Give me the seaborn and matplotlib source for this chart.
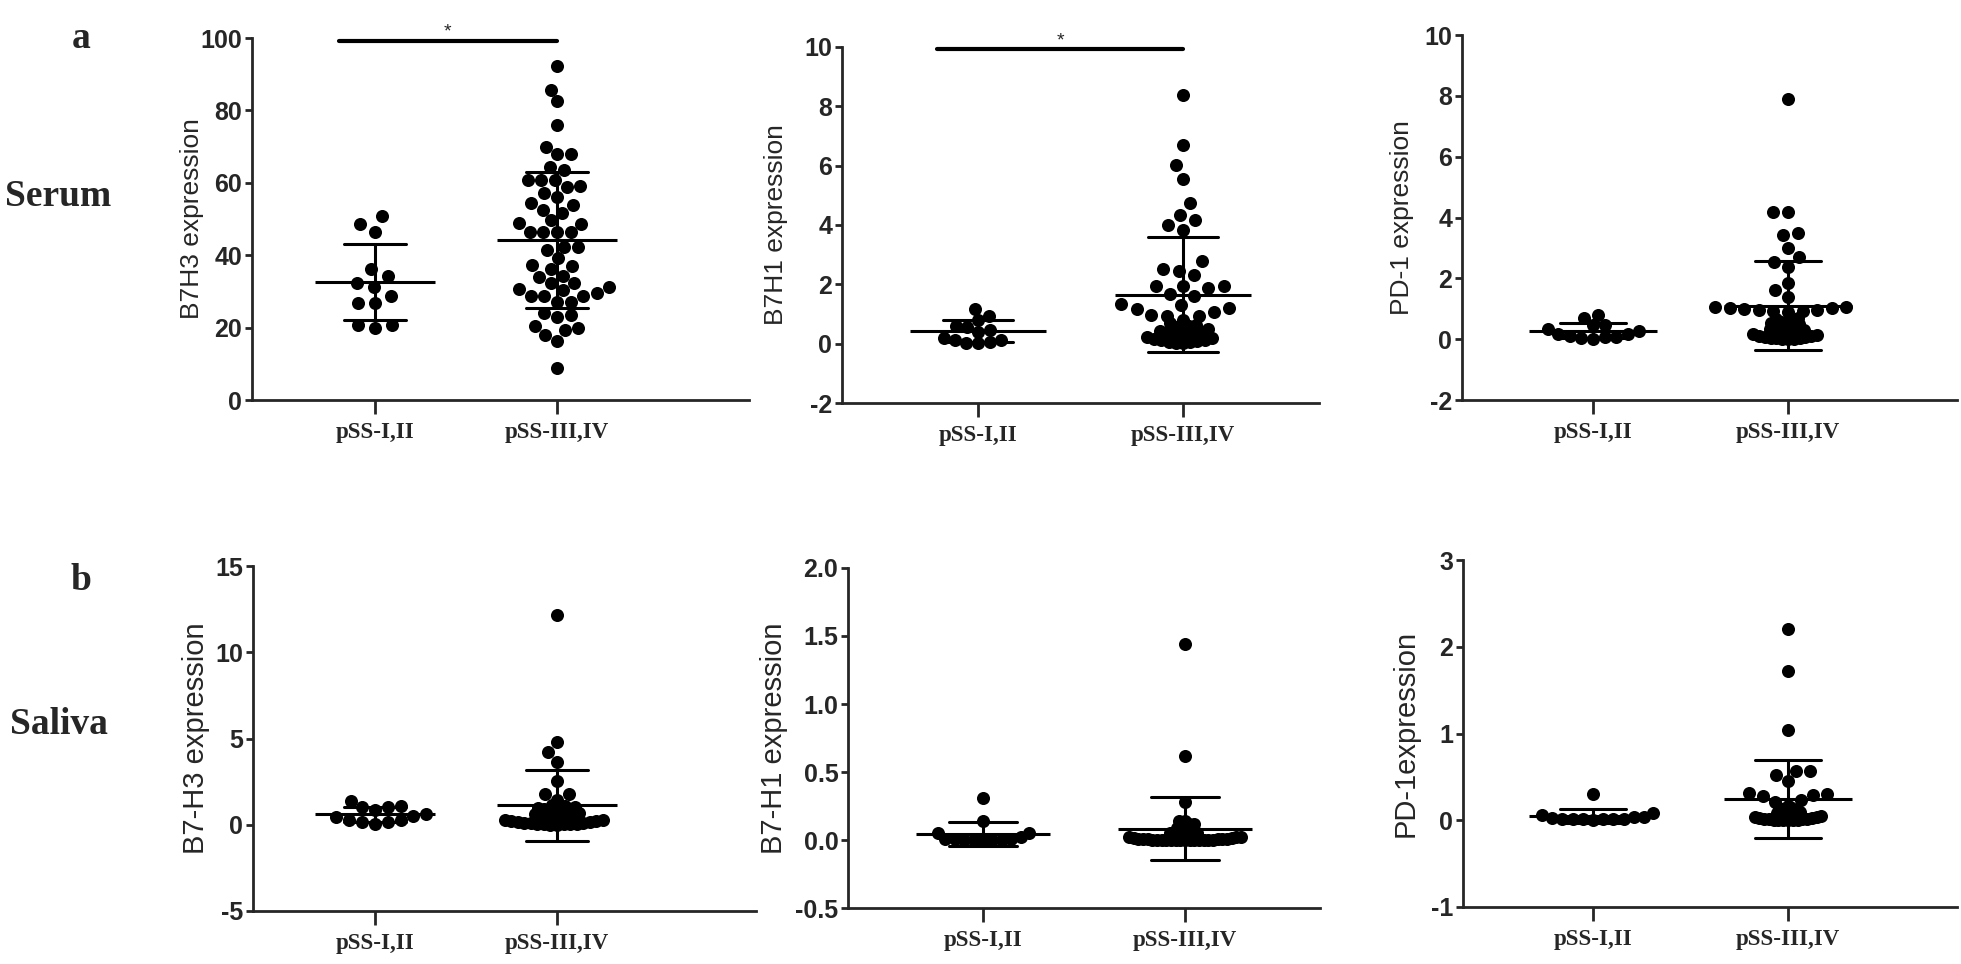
import seaborn as sns
import numpy as np
import matplotlib.pyplot as plt
import pandas as pd

sns.set_style("ticks")
plt.rcParams['font.family'] = ['Liberation Sans', 'DejaVu Sans']
plt.rcParams['axes.unicode_minus'] = False

groups = ['pSS-I,II', 'pSS-III,IV']

# ---- serum ----
b7h3_serum_12 = [48.7, 50.7, 46.5, 36.1, 34.3, 31.3, 32.3, 28.8, 26.9, 26.7, 20.7, 20.0, 20.7]
b7h3_serum_34 = [92.2, 85.7, 82.5, 76.0, 70.0, 68.0, 68.0, 63.6, 64.5, 60.8,
                 60.8, 60.8, 59.0, 58.8, 57.1, 56.2, 54.4, 53.9, 52.5, 51.6,
                 49.6, 48.8, 48.7, 46.5, 46.4, 46.4, 46.4, 42.4, 42.4, 41.5,
                 39.2, 37.3, 36.9, 36.1, 34.1, 34.3, 32.4, 32.4, 31.2, 30.5,
                 29.5, 28.6, 28.8, 30.6, 28.6, 27.2, 27.2, 24.0, 23.0, 23.5,
                 19.8, 19.4, 20.5, 18.0, 16.4, 8.8]

b7h1_serum_12 = [1.16, 0.92, 0.80, 0.60, 0.47, 0.41, 0.55, 0.13, 0.07, 0.02, 0.02, 0.11, 0.19]
b7h1_serum_34 = [8.39, 6.71, 6.02, 5.55, 4.73, 4.34, 4.17, 4.00, 3.83,
                 2.77, 2.51, 2.46, 2.32,
                 1.95, 1.93, 1.93, 1.87, 1.68, 1.59, 1.34, 1.31, 1.20, 1.16, 1.08,
                 0.97, 0.92, 0.92, 0.80,
                 0.72, 0.68, 0.64, 0.60, 0.55, 0.50, 0.47, 0.44, 0.40, 0.36, 0.33, 0.30,
                 0.27, 0.24, 0.21, 0.18, 0.15, 0.13, 0.11, 0.09, 0.07, 0.05, 0.03, 0.02]

pd1_serum_12 = [0.78, 0.70, 0.47, 0.45, 0.32, 0.28, 0.16, 0.18, 0.08, 0.07, 0.02, 0.05, 0.12]
pd1_serum_34 = [7.89, 4.19, 4.19, 3.48, 3.42, 2.99, 2.69, 2.55, 2.38, 1.86, 1.62, 1.40,
                1.07, 1.05, 1.03, 1.01, 0.99, 0.97, 0.95, 0.93, 0.91, 0.89,
                0.70, 0.66, 0.62, 0.58, 0.55, 0.52, 0.49, 0.46, 0.43, 0.40,
                0.37, 0.34, 0.31, 0.28, 0.25, 0.22, 0.20, 0.18, 0.16, 0.14,
                0.12, 0.10, 0.08, 0.06, 0.05, 0.04, 0.03, 0.02, 0.01, 0.0]

# ---- saliva ----
b7h3_saliva_12 = [1.10, 1.05, 1.40, 1.05, 0.85, 0.60, 0.50, 0.30, 0.15, 0.05, 0.15, 0.30, 0.45]
b7h3_saliva_34 = [12.18, 4.79, 4.22, 3.64, 2.54, 1.77, 1.77, 1.42,
                  1.15, 1.10, 1.05, 1.00, 0.95, 0.90, 0.85, 0.80, 0.75, 0.70,
                  0.65, 0.60, 0.55, 0.50, 0.45, 0.40, 0.36, 0.32, 0.28, 0.25,
                  0.22, 0.19, 0.16, 0.14, 0.12, 0.10, 0.08, 0.06, 0.05, 0.04,
                  0.03, 0.02, 0.01, 0.0]

b7h1_saliva_12 = [0.31, 0.14, 0.05, 0.05, 0.01, 0.01, 0.0, 0.0, 0.0, 0.0, 0.0, 0.01, 0.02]
b7h1_saliva_34 = [1.44, 0.62, 0.28, 0.14, 0.14,
                  0.12, 0.115, 0.11, 0.10, 0.09, 0.08, 0.07, 0.06, 0.055, 0.05,
                  0.045, 0.04, 0.035, 0.03, 0.03, 0.025, 0.02, 0.02, 0.015, 0.015,
                  0.01, 0.01, 0.01, 0.005, 0.005, 0.005, 0.0, 0.0, 0.0, 0.0,
                  0.0, 0.0, 0.0, 0.0, 0.0, 0.0, 0.0, 0.0, 0.0, 0.0]

pd1_saliva_12 = [0.30, 0.085, 0.06, 0.04, 0.01, 0.02, 0.01, 0.0, 0.01, 0.02, 0.01, 0.03, 0.04]
pd1_saliva_34 = [2.21, 1.72, 1.04, 0.57, 0.57, 0.52, 0.45, 0.31, 0.30, 0.29, 0.28, 0.23, 0.21, 0.17,
                 0.15, 0.14, 0.13, 0.12, 0.11, 0.10, 0.09, 0.08, 0.07, 0.06,
                 0.055, 0.05, 0.045, 0.04, 0.035, 0.03, 0.025, 0.02, 0.015, 0.01,
                 0.01, 0.005, 0.005, 0.0, 0.0, 0.0, 0.0]

data = [(b7h3_serum_12, b7h3_serum_34), (b7h1_serum_12, b7h1_serum_34), (pd1_serum_12, pd1_serum_34),
        (b7h3_saliva_12, b7h3_saliva_34), (b7h1_saliva_12, b7h1_saliva_34), (pd1_saliva_12, pd1_saliva_34)]
ylabels = ['B7H3 expression', 'B7H1 expression', 'PD-1 expression',
           'B7-H3 expression', 'B7-H1 expression', 'PD-1expression']
ylims = [(0, 100), (-2, 10), (-2, 10), (-5, 15), (-0.5, 2.0), (-1, 3)]
ysteps = [20, 2, 2, 5, 0.5, 1]

# layout in pixels: left, right, top, bottom, x of the two category ticks
W, H = 1961, 964
boxes = [(252, 749, 38, 400, 375, 557), (842, 1319, 47, 403, 978, 1183), (1462, 1957, 35, 400, 1593, 1788),
         (253, 756, 566, 911, 375, 557), (848, 1320, 568, 908, 983, 1185), (1463, 1957, 560, 907, 1593, 1788)]
ylabel_edge = [204, 788, 1414, 210, 788, 1420]   # x (px) of the right edge of each y label
ylabel_size = [19, 19, 19, 21, 21, 21]
# swarm layout: marker size used to place the dots (smaller -> dots pack with overlap, GraphPad-like)
# (group 1 size, group 2 size above split, group 2 size below split, split value)
layout = [(12, 9.4, 9.4, 0), (8, 11, 5, 0.75), (8, 10, 4, 0.8),
          (9, 9.4, 4.5, 1.3), (6.5, 9.4, 3.2, 0.2), (7, 9.4, 3.3, 0.16)]
DOT = 9.4

fig = plt.figure(figsize=(W / 100, H / 100), dpi=100)
swarm_colls = []


def swarm(ax, sub, size):
    n0 = len(ax.collections)
    sns.swarmplot(data=sub, x='group', y='value', order=groups, color='black',
                  size=size, linewidth=0, warn_thresh=1, ax=ax)
    swarm_colls.extend(ax.collections[n0:])


for i, (v12, v34) in enumerate(data):
    l, r, t, b, c0, c1 = boxes[i]
    ax = fig.add_axes([l / W, 1 - b / H, (r - l) / W, (b - t) / H])
    df = pd.DataFrame({'group': [groups[0]] * len(v12) + [groups[1]] * len(v34),
                       'value': list(v12) + list(v34)})
    s1, s_hi, s_lo, split = layout[i]
    g1 = df[df.group == groups[0]]
    g2 = df[df.group == groups[1]]
    swarm(ax, g1, s1)
    swarm(ax, g2[g2.value >= split], s_hi)
    if (g2.value < split).any():
        swarm(ax, g2[g2.value < split], s_lo)

    sns.pointplot(data=df, x='group', y='value', order=groups, errorbar='sd', capsize=0.34,
                  linestyle='none', marker='', color='black', err_kws={'linewidth': 2.2}, ax=ax)
    means = df.groupby('group', sort=False)['value'].mean()
    ax.hlines(means.values, np.arange(2) - 0.33, np.arange(2) + 0.33, color='black', lw=2.2, zorder=4)

    span = c1 - c0
    ax.set_xlim(-(c0 - l) / span, 1 + (r - c1) / span)
    lo, hi = ylims[i]
    ax.set_ylim(lo, hi)
    ax.set_yticks(np.arange(lo, hi + ysteps[i] / 2, ysteps[i]))
    ax.set_xticks([0, 1])
    ax.set_xticklabels(groups, fontfamily='Liberation Serif', fontweight='bold', fontsize=16.5)
    for lab in ax.get_yticklabels():
        lab.set_fontweight('bold')
        lab.set_fontsize(18)
    ax.set_xlabel('')
    ax.set_ylabel(ylabels[i], fontsize=ylabel_size[i])
    ax.yaxis.set_label_coords((ylabel_edge[i] - l) / (r - l), 0.5)
    sns.despine(ax=ax)
    for sp in ['left', 'bottom']:
        ax.spines[sp].set_linewidth(2)
    ax.tick_params(axis='y', length=5, width=2, pad=2)
    ax.tick_params(axis='x', length=10, width=2, pad=6)

    # significance bar for the first two serum panels
    if i in (0, 1):
        top = hi - (hi - lo) * 0.007
        ax.plot([-0.2, 1.0], [top, top], color='black', lw=3, clip_on=False)
        ax.text(0.4, top + (hi - lo) * 0.025, '*', ha='center', va='center', fontsize=14, clip_on=False)

# panel letters and sample names
for s, x, y, fs in [('a', 81, 38, 27), ('Serum', 58, 197, 27), ('b', 81, 581, 27), ('Saliva', 59, 725, 27)]:
    fig.text(x / W, 1 - y / H, s, ha='center', va='center', fontsize=fs,
             fontfamily='Liberation Serif', fontweight='bold')

# lay the swarms out once at final scale, then freeze them and enlarge the dots
fig.canvas.draw()
for coll in swarm_colls:
    if 'draw' in vars(coll):
        del coll.draw
    coll.set_sizes([DOT ** 2])

fig.savefig('out.png', dpi=100)
